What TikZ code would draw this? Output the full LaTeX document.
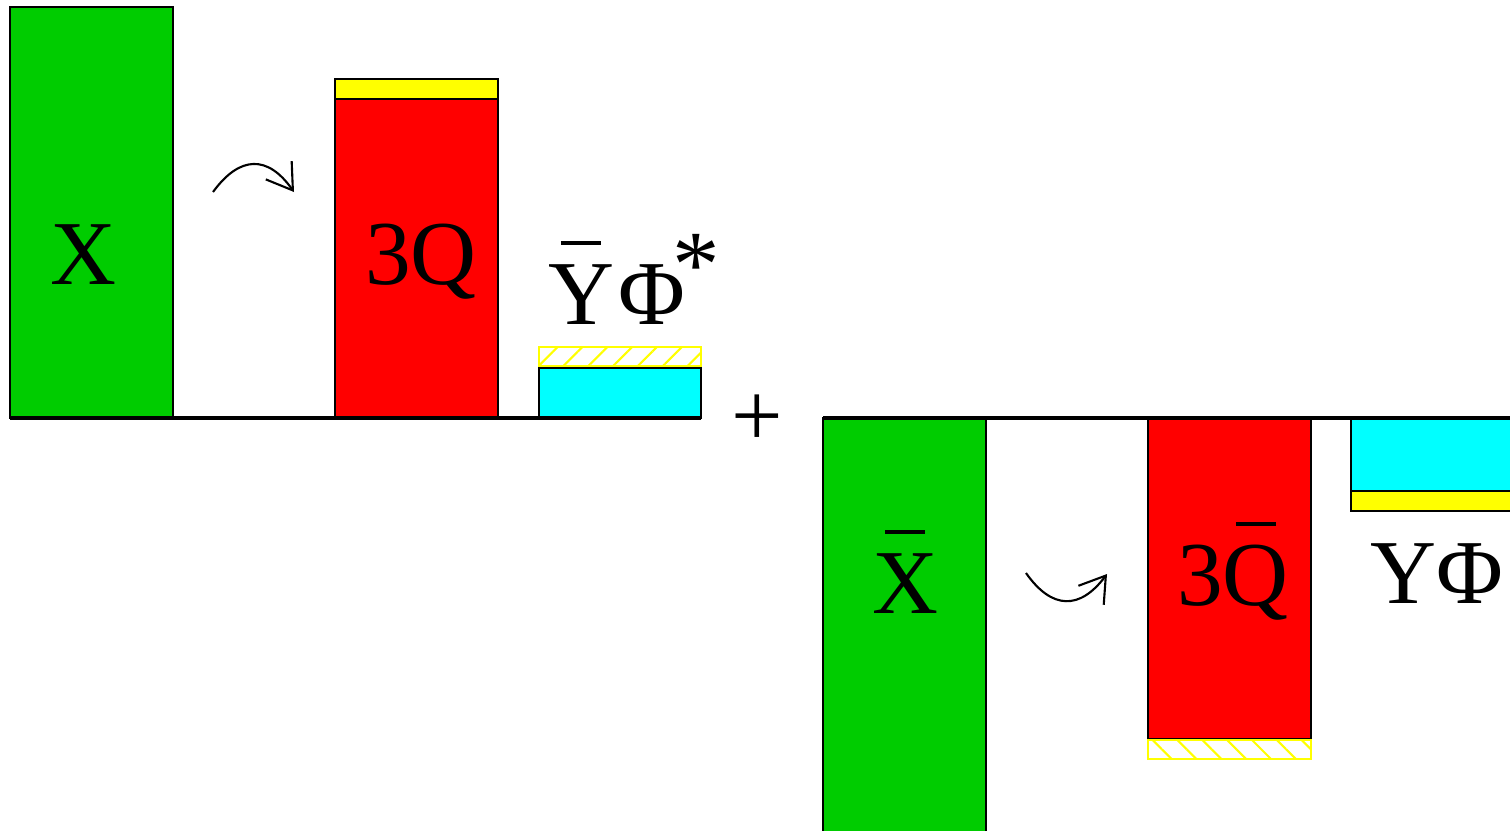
\documentclass[tikz,border=0pt]{standalone}
\usepackage{fontspec}
\setmainfont{Liberation Serif}
\usetikzlibrary{arrows.meta,patterns.meta}

\definecolor{barGreen}{RGB}{0,204,0}
\definecolor{barRed}{RGB}{255,0,0}
\definecolor{barYellow}{RGB}{255,255,0}
\definecolor{barCyan}{RGB}{0,255,255}

% letter with a raised bar over it
\newcommand{\ovbar}[1]{\ooalign{#1\cr\hidewidth\rule[0.86em]{0.44em}{0.045em}\hidewidth\cr}}
\newcommand{\upstar}{\kern-0.14em\raisebox{0.3em}{\fontsize{27}{27}\selectfont *}}

\tikzset{
    bar/.style={draw=black, line width=0.5pt},
    hatchbar/.style={draw=barYellow, line width=0.7pt, pattern color=barYellow},
    axisline/.style={line width=1pt},
    lbl/.style={font=\fontsize{26}{30}\selectfont, inner sep=0pt, anchor=base},
    flow/.style={-{Straight Barb[length=7pt,width=9pt]}, line width=0.6pt}
}

\begin{document}
\begin{tikzpicture}
    \useasboundingbox (0,0) rectangle (15.1,-8.3);

    % Upper half
    \filldraw[bar, fill=barGreen] (0.10,-0.07) rectangle (1.73,-4.18);
    \filldraw[bar, fill=barRed] (3.35,-0.99) rectangle (4.98,-4.18);
    \filldraw[bar, fill=barYellow] (3.35,-0.79) rectangle (4.98,-0.99);
    \filldraw[bar, fill=barCyan] (5.39,-3.68) rectangle (7.01,-4.18);
    \draw[hatchbar, pattern={Lines[angle=45,distance=5pt,line width=0.6pt]}] (5.39,-3.47) rectangle (7.01,-3.66);
    \draw[axisline] (0.10,-4.18) -- (7.01,-4.18);

    \node[lbl] (lblX) at (0.83,-2.84) {X};
    \node[lbl] (lblQ) at (4.21,-2.84) {3Q};
    \node[lbl] (lblYPhi) at (6.34,-3.24) {\ovbar{Y}\kern0.05emΦ\upstar};

    \coordinate (flowA-start) at (2.13,-1.92);
    \coordinate (flowA-end) at (2.94,-1.92);
    \draw[flow] (flowA-start) .. controls (2.40,-1.55) and (2.68,-1.55) .. (flowA-end);

    \node[lbl, anchor=center] (plus) at (7.57,-4.21) {+};

    % Lower half
    \filldraw[bar, fill=barGreen] (8.23,-4.18) rectangle (9.86,-8.45);
    \filldraw[bar, fill=barRed] (11.48,-4.18) rectangle (13.11,-7.39);
    \draw[hatchbar, pattern={Lines[angle=-45,distance=5pt,line width=0.6pt]}] (11.48,-7.40) rectangle (13.11,-7.59);
    \filldraw[bar, fill=barCyan] (13.51,-4.18) rectangle (15.25,-4.91);
    \filldraw[bar, fill=barYellow] (13.51,-4.91) rectangle (15.25,-5.11);
    \draw[axisline] (8.23,-4.18) -- (15.2,-4.18);

    \node[lbl] (lblXbar) at (9.05,-6.13) {\ovbar{X}};
    \node[lbl] (lblQbar) at (12.33,-6.05) {3\ovbar{Q}};
    \node[lbl] (lblYPhiB) at (14.37,-6.03) {YΦ};

    \coordinate (flowB-start) at (10.26,-5.73);
    \coordinate (flowB-end) at (11.07,-5.74);
    \draw[flow] (flowB-start) .. controls (10.52,-6.10) and (10.80,-6.10) .. (flowB-end);
\end{tikzpicture}
\end{document}
